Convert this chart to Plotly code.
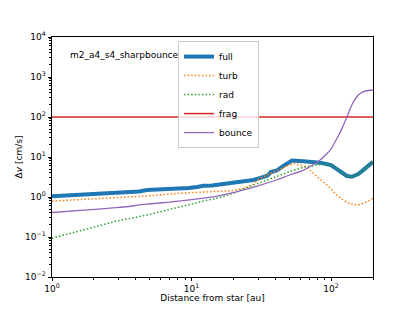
import numpy as np
import plotly.graph_objects as go

# ---- data ----
full_x = [1, 1.3, 1.7, 2.2, 2.9, 3.5, 4.2, 4.8, 5.5, 6.5, 8.1, 9.5, 11, 12.2, 14, 16, 19, 23.7, 27.8,
          32, 35, 37, 41, 45.6, 50, 52.5, 60, 71, 84, 100, 117, 130, 141, 157, 176, 200]
full_y = [1.05, 1.1, 1.2, 1.24, 1.32, 1.34, 1.38, 1.5, 1.52, 1.55, 1.65, 1.68, 1.78, 1.9, 1.95, 2.07, 2.2,
          2.45, 2.66, 3.1, 3.4, 4.2, 4.6, 6.0, 7.2, 8.2, 7.9, 7.6, 7.2, 6.3, 4.3, 3.35, 3.2, 3.76, 5.2, 7.6]

turb_x = [1, 1.7, 2.9, 4.8, 8.1, 12.2, 16, 20, 23.7, 27.8, 31, 36.8, 41, 47, 54, 60, 67, 79.4, 93.6,
          110, 122, 137, 157, 181, 200]
turb_y = [0.79, 0.87, 0.96, 1.06, 1.24, 1.31, 1.36, 1.45, 1.65, 2.1, 2.9, 3.9, 4.55, 5.7, 6.9, 6.3, 5.7,
          3.2, 2.0, 1.12, 0.84, 0.67, 0.63, 0.76, 0.93]

rad_x = [1, 1.7, 2.9, 4.8, 8.1, 12.2, 16, 20, 23.7, 30, 36.8, 45, 54, 63, 71, 84, 93.6, 104, 117, 130,
         141, 157, 176, 200]
rad_y = [0.093, 0.15, 0.25, 0.355, 0.57, 0.79, 0.97, 1.25, 1.6, 2.2, 2.9, 3.8, 4.7, 5.5, 6.0, 6.5, 6.6,
         6.0, 4.3, 3.35, 3.2, 3.76, 5.2, 7.6]

frag_x = [1, 200]
frag_y = [100, 100]

bounce_x = [1, 1.7, 2.9, 4.8, 8.1, 12.2, 16, 23.7, 30, 41, 50, 63.6, 77, 84, 91, 99, 107, 114, 120, 125,
            130, 135, 141, 147, 153, 162, 171, 185, 200]
bounce_y = [0.41, 0.47, 0.54, 0.66, 0.79, 0.94, 1.08, 1.5, 1.9, 2.7, 3.5, 4.7, 6.9, 8.5, 11.2, 15, 24,
            36, 52, 72, 100, 140, 200, 260, 320, 385, 430, 460, 473]

x_tickvals = [1, 10, 100]
x_ticktext = ["10<sup>0</sup>", "10<sup>1</sup>", "10<sup>2</sup>"]
y_tickvals = [1e-2, 1e-1, 1e0, 1e1, 1e2, 1e3, 1e4]
y_ticktext = ["10<sup>\u22122</sup>", "10<sup>\u22121</sup>", "10<sup>0</sup>", "10<sup>1</sup>",
              "10<sup>2</sup>", "10<sup>3</sup>", "10<sup>4</sup>"]

x_minor = [m * 10 ** e for e in range(0, 3) for m in range(2, 10) if m * 10 ** e <= 200]
y_minor = [m * 10.0 ** e for e in range(-2, 4) for m in range(2, 10)]

FONT = "DejaVu Sans"
DOT = "1.5px,2.1px"

fig = go.Figure()
fig.add_trace(go.Scatter(x=full_x, y=full_y, name="full", mode="lines",
                         line=dict(color="#1f77b4", width=4)))
fig.add_trace(go.Scatter(x=turb_x, y=turb_y, name="turb", mode="lines",
                         line=dict(color="#ff7f0e", width=1.5, dash=DOT)))
fig.add_trace(go.Scatter(x=rad_x, y=rad_y, name="rad", mode="lines",
                         line=dict(color="#2ca02c", width=1.5, dash=DOT)))
fig.add_trace(go.Scatter(x=frag_x, y=frag_y, name="frag", mode="lines",
                         line=dict(color="#d62728", width=1.5)))
fig.add_trace(go.Scatter(x=bounce_x, y=bounce_y, name="bounce", mode="lines",
                         line=dict(color="#9467bd", width=1.3, shape="spline")))

axis_common = dict(type="log", showgrid=False, zeroline=False, showline=True, linecolor="black",
                   linewidth=0.8, mirror=True, ticks="outside", ticklen=3.5, tickwidth=0.8,
                   tickcolor="black", automargin=False,
                   tickfont=dict(family=FONT, size=9, color="black"))

fig.update_xaxes(**axis_common, range=[0, np.log10(200)], tickmode="array",
                 tickvals=x_tickvals, ticktext=x_ticktext,
                 minor=dict(tickmode="array", tickvals=x_minor, ticks="outside", ticklen=2,
                            tickwidth=0.6, tickcolor="black"),
                 title=dict(text="Distance from star [au]", standoff=8,
                            font=dict(family=FONT, size=9, color="black")))
fig.update_yaxes(**axis_common, range=[-2, 4], tickmode="array",
                 tickvals=y_tickvals, ticktext=y_ticktext,
                 minor=dict(tickmode="array", tickvals=y_minor, ticks="outside", ticklen=2,
                            tickwidth=0.6, tickcolor="black"),
                 title=dict(text="\u0394<i>v</i> [cm/s]", standoff=0,
                            font=dict(family=FONT, size=9, color="black")))

fig.add_annotation(text="m2_a4_s4_sharpbounce", xref="paper", yref="paper", x=0.05, y=0.925,
                   xanchor="left", yanchor="middle", showarrow=False,
                   font=dict(family=FONT, size=9, color="black"))

# the page body has an 8px margin, so the figure is sized to sit inside the 415x311 window
fig.update_layout(
    width=399, height=295,
    margin=dict(l=44, r=34, t=29, b=26, autoexpand=False),
    paper_bgcolor="white", plot_bgcolor="white",
    font=dict(family=FONT, size=9, color="black"),
    legend=dict(x=0.3925, y=0.983, xanchor="left", yanchor="top",
                bgcolor="rgba(255,255,255,0.8)", bordercolor="#cccccc", borderwidth=1,
                font=dict(family=FONT, size=9, color="black"), itemwidth=30,
                tracegroupgap=0),
)

fig.write_html("out.html")
